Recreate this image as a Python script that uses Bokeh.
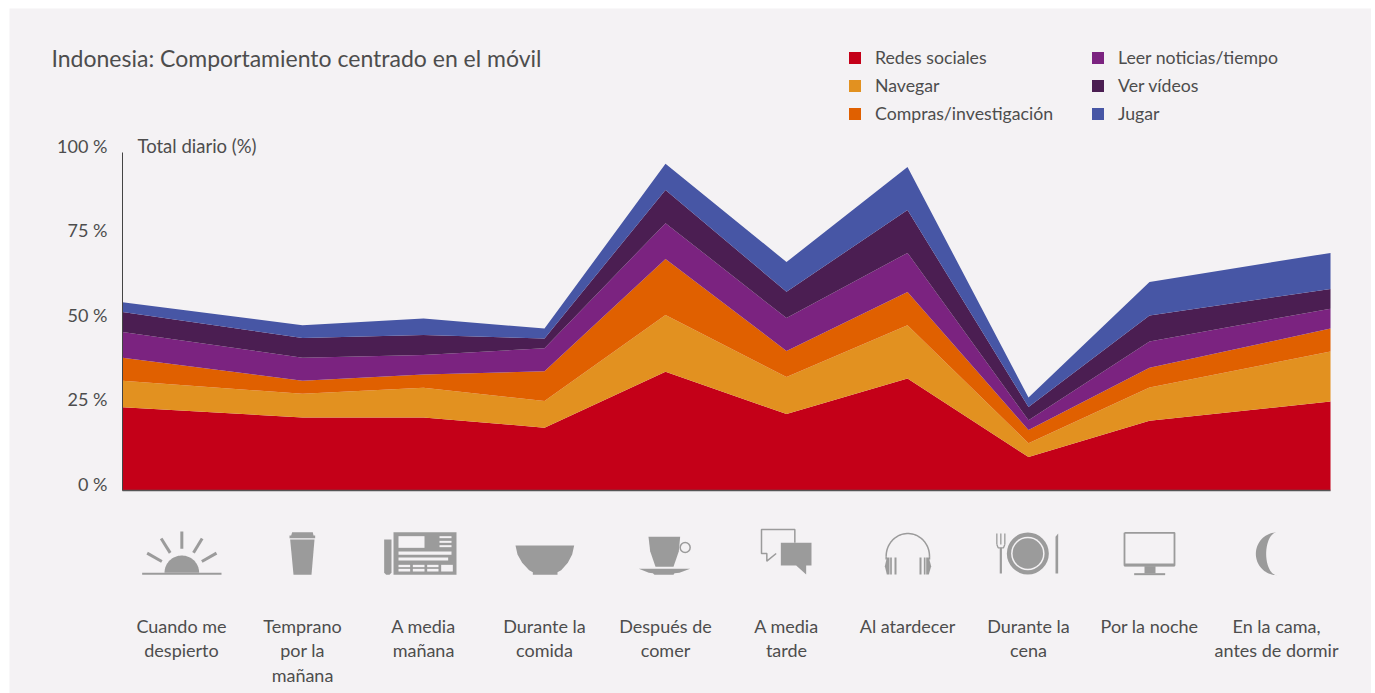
import numpy as np
from bokeh.embed import file_html
from bokeh.resources import INLINE
from bokeh.plotting import figure
from bokeh.models import (ColumnDataSource, Range1d, FixedTicker, Legend, LegendItem,
                          Label, LinearAxis)

# ---------- data ----------
categories = ["Cuando me\ndespierto", "Temprano\npor la\nmañana", "A media\nmañana",
              "Durante la\ncomida", "Después de\ncomer", "A media\ntarde", "Al atardecer",
              "Durante la\ncena", "Por la noche", "En la cama,\nantes de dormir"]
label_x = [0, 1, 2, 3, 4, 5, 6, 7, 8, 9.05]
area_x = [-0.488, 1, 2, 3, 4, 5, 6, 7, 8, 9.496]

redes = [24.6, 21.6, 21.6, 18.6, 35.1, 22.6, 33.1, 9.9, 20.6, 26.3]
navegar = [7.9, 7.0, 8.8, 7.9, 16.8, 11.0, 15.8, 4.1, 9.9, 14.8]
compras = [6.8, 3.9, 3.9, 8.8, 16.6, 7.7, 9.8, 3.9, 5.8, 6.8]
leer = [7.6, 6.8, 5.8, 6.8, 10.6, 9.7, 11.6, 2.9, 7.8, 5.9]
ver = [5.9, 5.8, 5.9, 2.9, 9.8, 7.8, 12.7, 3.9, 7.7, 5.8]
jugar = [2.9, 3.8, 4.9, 2.9, 7.8, 8.8, 12.7, 2.8, 9.9, 10.7]

series_names = ["Redes sociales", "Navegar", "Compras/investigación",
                "Leer noticias/tiempo", "Ver vídeos", "Jugar"]
colors = ["#c40018", "#e29120", "#e06000", "#7b2380", "#4b1e52", "#4756a5"]
y_ticks = [0, 25, 50, 75, 100]
y_tick_labels = ["0 %", "25 %", "50 %", "75 %", "100 %"]

# ---------- style ----------
FONT = "Lato"
TXT = "#4d4d4d"
PANEL = "#f4f2f4"
ICON = "#9b9b9b"
W = 1362
H = 685
PX_PER_PCT = 3.38
PX_PER_CAT = 121
X0, X1 = -0.488, 9.496


def vy(page_y):
    return (491 - np.asarray(page_y, dtype=float)) / PX_PER_PCT


def cx(page_x):
    return (np.asarray(page_x, dtype=float) - 182) / PX_PER_CAT


source = ColumnDataSource(dict(x=area_x, **dict(zip(series_names, [redes, navegar, compras, leer, ver, jugar]))))

ystart, yend = float(vy(694)), float(vy(9))
p = figure(width=W, height=H, x_range=Range1d(float(cx(10)), float(cx(1372))), y_range=Range1d(ystart, yend),
           output_backend="svg", toolbar_location=None, margin=(8, 0, 0, 9),
           min_border=0, min_border_left=0, min_border_right=0, min_border_top=0, min_border_bottom=0)
p.border_fill_color = PANEL
p.background_fill_color = PANEL
p.outline_line_color = None
p.grid.visible = False

renderers = p.varea_stack(series_names, x="x", color=colors, source=source)

# value axis line
ya = p.yaxis[0]
ya.fixed_location = X0
ya.bounds = (0, 100)
ya.ticker = FixedTicker(ticks=[])
ya.major_tick_line_color = None
ya.minor_tick_line_color = None
ya.axis_line_color = "#444444"
ya.axis_line_width = 1

# value axis labels (they sit a little above their tick position)
lift = 7 / PX_PER_PCT
p.extra_y_ranges = {"labels": Range1d(ystart - lift, yend - lift)}
yl = LinearAxis(y_range_name="labels", fixed_location=X0, ticker=FixedTicker(ticks=y_ticks),
                major_label_overrides=dict(zip(y_ticks, y_tick_labels)),
                axis_line_color=None, major_tick_line_color=None, minor_tick_line_color=None,
                major_label_standoff=9, major_label_text_font=FONT, major_label_text_font_size="18px",
                major_label_text_color=TXT)
p.add_layout(yl, "left")

# baseline
xa = p.xaxis[0]
xa.fixed_location = 0
xa.bounds = (X0, X1)
xa.ticker = FixedTicker(ticks=[])
xa.major_tick_line_color = None
xa.minor_tick_line_color = None
xa.axis_line_color = "#555555"
xa.axis_line_width = 1.5

# category labels
xl = LinearAxis(fixed_location=float(vy(606)), ticker=FixedTicker(ticks=label_x),
                major_label_overrides=dict(zip(label_x, categories)),
                axis_line_color=None, major_tick_line_color=None, minor_tick_line_color=None,
                major_label_standoff=3, major_label_text_font=FONT, major_label_text_font_size="18px",
                major_label_text_color=TXT, major_label_text_line_height=1.135)
p.add_layout(xl, "below")

p.add_layout(Label(x=float(cx(52)), y=float(vy(72)), text="Indonesia: Comportamiento centrado en el móvil",
                   text_font=FONT, text_font_size="23px", text_color=TXT))
p.add_layout(Label(x=float(cx(138)), y=float(vy(157)), text="Total diario (%)", text_font=FONT,
                   text_font_size="18.5px", text_color=TXT))

legend = Legend(items=[LegendItem(label=n, renderers=[r]) for n, r in zip(series_names, renderers)],
                location=(838, 569), nrows=3, orientation="vertical", glyph_width=15, glyph_height=15,
                label_standoff=13, label_width=208, spacing=7, padding=0, margin=0,
                background_fill_alpha=0, border_line_alpha=0,
                label_text_font=FONT, label_text_font_size="17.7px", label_text_color=TXT)
p.add_layout(legend)


# ---------- pictograms (traced in crop coordinates, decoration only) ----------
def Z(pts, ox):
    a = np.array(pts, dtype=float)
    return cx(ox + a[:, 0] / 3), vy(480 + a[:, 1] / 3)


def poly(pts, ox, color=ICON):
    x, y = Z(pts, ox)
    p.patch(x, y, fill_color=color, line_color=None)


def stroke(pts, ox, width=3, color=ICON):
    x, y = Z(pts, ox)
    p.line(x, y, line_color=color, line_width=width)


def rect(x0, y0, x1, y1, ox, color=ICON):
    poly([(x0, y0), (x1, y0), (x1, y1), (x0, y1)], ox, color)


def dot(X, Y, ox, size, fill=ICON, line=None, lw=0):
    x, y = Z([(X, Y)], ox)
    p.scatter(x, y, size=size, marker="circle", fill_color=fill, line_color=line, line_width=lw)


def arc(cX, cY, rX, rY, a0, a1, n=40):
    t = np.radians(np.linspace(a0, a1, n))
    return [(cX + rX * np.cos(v), cY - rY * np.sin(v)) for v in t]


# sunrise
rect(128, 280, 366, 286, 100)
poly(arc(247, 280, 52, 52, 0, 180), 100)
stroke([(247, 156), (247, 208)], 100)
stroke([(185, 177), (212, 220)], 100)
stroke([(308, 177), (282, 220)], 100)
stroke([(143, 221), (187, 246)], 100)
stroke([(351, 221), (307, 246)], 100)
# take-away cup
poly([(578, 158), (640, 158), (642, 168), (647, 168), (647, 176), (570, 176), (570, 168), (575, 168)], 100)
poly([(572, 180), (645, 180), (636, 286), (582, 286)], 100)
# newspaper
rect(882, 158, 1071, 286, 100)
poly([(854, 180), (876, 180), (876, 280), (870, 286), (860, 286), (854, 280)], 100)
for box in [(897, 170, 975, 205), (1020, 170, 1056, 176), (1020, 184, 1056, 190), (1020, 197, 1056, 203),
            (897, 216, 1056, 226), (897, 234, 1046, 243), (897, 256, 932, 263), (940, 256, 975, 263),
            (983, 256, 1017, 263), (897, 268, 932, 276), (940, 268, 975, 276), (983, 268, 1017, 276),
            (1025, 256, 1060, 276)]:
    rect(*box, 100, PANEL)
# bowl
poly([(1248, 198), (1424, 198), (1418, 225), (1405, 250), (1385, 272), (1374, 278), (1374, 286),
      (1300, 286), (1300, 278), (1289, 272), (1268, 250), (1254, 225)], 100)
# coffee cup
poly([(147, 172), (242, 172), (238, 215), (222, 262), (168, 262), (152, 215)], 600)
dot(257, 204, 600, 10, fill=PANEL, line=ICON, lw=1.5)
poly([(118, 268), (272, 268), (240, 280), (225, 281), (222, 286), (165, 286), (160, 281), (148, 280)], 600)
# chat bubbles
stroke([(586, 190), (586, 150), (486, 150), (486, 222), (502, 222), (502, 245), (530, 222)], 600, width=1.5)
poly([(544, 190), (636, 190), (636, 258), (620, 258), (620, 285), (590, 258), (544, 258)], 600)
# headphones
stroke(arc(925, 230, 65, 68, 0, 180), 600, width=1.5)
stroke([(860, 230), (860, 240)], 600, width=1.5)
stroke([(990, 230), (990, 240)], 600, width=1.5)
poly([(862, 234), (870, 234), (870, 285), (862, 285), (856, 260)], 600)
rect(872, 234, 877, 285, 600)
rect(885, 234, 891, 285, 600)
poly([(988, 234), (980, 234), (980, 285), (988, 285), (995, 260)], 600)
rect(973, 234, 978, 285, 600)
rect(960, 234, 966, 285, 600)
# dining
for X in (1192, 1204, 1216):
    stroke([(X, 162), (X, 195)], 600, width=1.3)
stroke([(1192, 195), (1196, 205), (1212, 205), (1216, 195)], 600, width=1.3)
stroke([(1204, 205), (1204, 282)], 600, width=2.2)
dot(1285, 222, 600, 42, fill=ICON)
dot(1285, 222, 600, 33.5, fill=PANEL)
dot(1285, 222, 600, 30.5, fill=ICON)
poly([(1368, 172), (1376, 162), (1376, 282), (1368, 282)], 600)
# monitor
stroke([(375, 160), (525, 160), (525, 258), (375, 258), (375, 160)], 1000, width=1.8)
rect(375, 252, 525, 260, 1000)
rect(435, 260, 468, 282, 1000)
rect(404, 281, 497, 287, 1000)
# moon
poly(arc(832, 223, 63, 64, 90, 270) + arc(832, 223, 32, 64, 270, 90), 1000)

open("out.html", "w").write(file_html(p, INLINE))
